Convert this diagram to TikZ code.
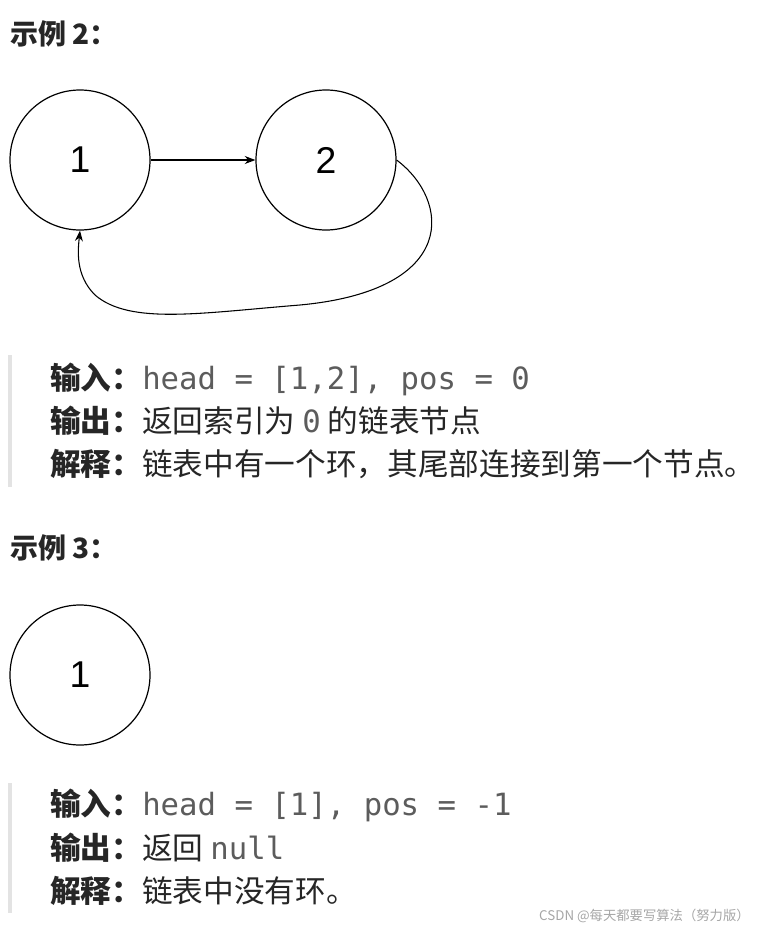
\documentclass[tikz,border=0pt]{standalone}
\usepackage{fontspec}
\setmainfont{Liberation Sans}
\newfontfamily\cjk{Noto Sans CJK SC}
\newfontfamily\mono{DejaVu Sans Mono}
\usetikzlibrary{arrows.meta}
\definecolor{txt}{HTML}{262626}
\definecolor{codeg}{HTML}{5C5C5C}
\definecolor{barg}{HTML}{E3E3E3}
\tikzset{
  cnode/.style={circle,draw=black,line width=0.9pt,minimum size=105pt,inner sep=0pt,font=\fontsize{28}{30}\selectfont},
  ttl/.style={anchor=base west,inner sep=0pt,text=txt,font=\cjk\bfseries\fontsize{21}{24}\selectfont},
  ln/.style={anchor=base west,inner sep=0pt,text=txt,font=\cjk\fontsize{23}{26}\selectfont},
  bar/.style={draw=barg,line width=2.5pt},
  conn/.style={draw=black,line width=0.8pt,-{Stealth[length=8pt,width=6pt]}}
}
\newcommand{\cd}[1]{{\mono\color{codeg}#1}}
\newcommand{\kw}[1]{{\bfseries #1}}
\begin{document}
\begin{tikzpicture}[x=0.75pt,y=-0.75pt]
\useasboundingbox (0,0) rectangle (761,929);
\node[ttl] (t2) at (10,44) {示例 2：};
\node[cnode] (a1) at (80,160) {1};
\node[cnode] (a2) at (326,160) {2};
\draw[conn] (a1.east) -- (a2.west);
\draw[conn] (a2.east) .. controls (450,200) and (460,290) .. (300,305) .. controls (200,313) and (130,325) .. (95,295) .. controls (75,275) and (78,250) .. (a1.south);
\coordinate (b1s) at (10,355); \coordinate (b1e) at (10,487);
\draw[bar] (b1s) -- (b1e);
\node[ln] (l1) at (50,389) {\kw{输入：}\cd{head = [1,2], pos = 0}};
\node[ln] (l2) at (50,432) {\kw{输出：}返回索引为 \cd{0} 的链表节点};
\node[ln] (l3) at (50,475) {\kw{解释：}链表中有一个环，其尾部连接到第一个节点。};
\node[ttl] (t3) at (10,558) {示例 3：};
\node[cnode] (c1) at (80,675) {1};
\coordinate (b2s) at (10,783); \coordinate (b2e) at (10,913);
\draw[bar] (b2s) -- (b2e);
\node[ln] (m1) at (50,815) {\kw{输入：}\cd{head = [1], pos = -1}};
\node[ln] (m2) at (50,859) {\kw{输出：}返回 \cd{null}};
\node[ln] (m3) at (50,902) {\kw{解释：}链表中没有环。};
\node[anchor=base east,inner sep=0pt,text=gray!70,font=\cjk\fontsize{10}{12}\selectfont] (wm) at (750,920) {CSDN @每天都要写算法（努力版）};
\end{tikzpicture}
\end{document}
